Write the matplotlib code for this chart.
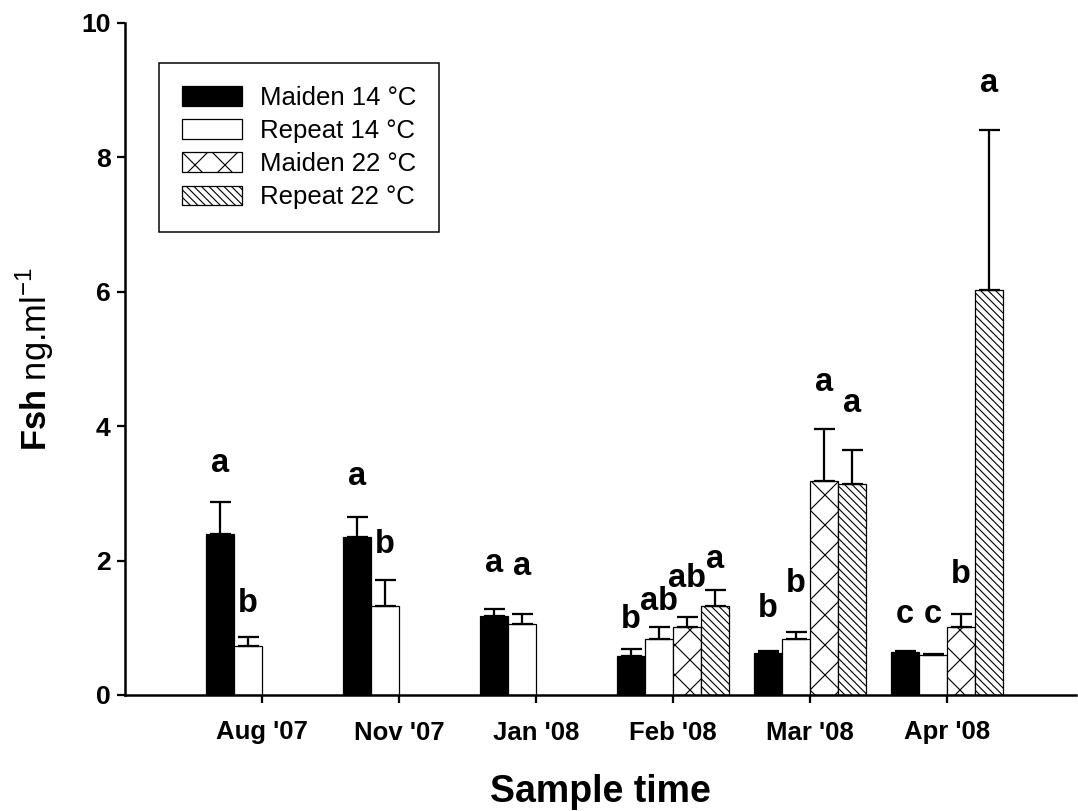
import numpy as np
import matplotlib
matplotlib.use('Agg')
import matplotlib.pyplot as plt

# ---- data ----
categories = ["Aug '07", "Nov '07", "Jan '08", "Feb '08", "Mar '08", "Apr '08"]
series_names = ["Maiden 14 °C", "Repeat 14 °C", "Maiden 22 °C", "Repeat 22 °C"]

maiden14 = [2.40, 2.35, 1.18, 0.58, 0.62, 0.64]
maiden14_err = [0.47, 0.30, 0.10, 0.10, 0.04, 0.02]
repeat14 = [0.73, 1.32, 1.06, 0.83, 0.83, 0.59]
repeat14_err = [0.13, 0.39, 0.15, 0.18, 0.11, 0.02]
maiden22 = [np.nan, np.nan, np.nan, 1.01, 3.18, 1.01]
maiden22_err = [np.nan, np.nan, np.nan, 0.15, 0.78, 0.20]
repeat22 = [np.nan, np.nan, np.nan, 1.32, 3.14, 6.03]
repeat22_err = [np.nan, np.nan, np.nan, 0.24, 0.50, 2.38]

# significance letters per series (None = no bar)
letters_m14 = ["a", "a", "a", "b", "b", "c"]
letters_r14 = ["b", "b", "a", "ab", "b", "c"]
letters_m22 = [None, None, None, "ab", "a", "b"]
letters_r22 = [None, None, None, "a", "a", "a"]
# height (data units) of the letter baselines
letter_y_m14 = [3.32, 3.13, 1.83, 1.00, 1.16, 1.07]
letter_y_r14 = [1.24, 2.11, 1.79, 1.26, 1.53, 1.07]
letter_y_m22 = [None, None, None, 1.61, 4.52, 1.67]
letter_y_r22 = [None, None, None, 1.89, 4.21, 8.97]

# ---- style ----
DPI = 180
plt.rcParams['font.family'] = ['Liberation Sans', 'DejaVu Sans']
plt.rcParams['mathtext.fontset'] = 'custom'
plt.rcParams['mathtext.rm'] = 'Liberation Sans'
plt.rcParams['mathtext.bf'] = 'Liberation Sans:bold'
plt.rcParams['hatch.linewidth'] = 0.45

fig = plt.figure(figsize=(1078 / DPI, 811 / DPI), dpi=DPI)
ax = fig.add_axes([125 / 1078, 1 - 695 / 811, (1076 - 125) / 1078, (695 - 23) / 811])

x = np.arange(len(categories))
w = 0.2044
series = [
    (maiden14, maiden14_err, 'black', '', letters_m14, letter_y_m14),
    (repeat14, repeat14_err, 'white', '', letters_r14, letter_y_r14),
    (maiden22, maiden22_err, 'white', 'xx', letters_m22, letter_y_m22),
    (repeat22, repeat22_err, 'white', '\\' * 8, letters_r22, letter_y_r22),
]

for j, (vals, errs, fc, hatch, letts, ly) in enumerate(series):
    vals = np.array(vals, dtype=float)
    errs = np.array(errs, dtype=float)
    left = x + (j - 2) * w
    ax.bar(left, vals, width=w, align='edge', color=fc, edgecolor='black',
           linewidth=0.5, hatch=hatch if hatch else None, label=series_names[j], zorder=2)
    centers = left + w / 2
    ax.errorbar(centers, vals, yerr=[np.zeros_like(errs), errs], fmt='none',
                ecolor='black', elinewidth=0.9, capsize=4.2, capthick=0.9, zorder=3)
    for k, (lt, yy) in enumerate(zip(letts, ly)):
        if lt is None:
            continue
        ax.text(centers[k], yy, lt, ha='center', va='baseline',
                fontsize=13, fontweight='bold', zorder=4)

ax.set_xlim(-1.0, 5.94)
ax.set_ylim(0, 10)
ax.set_xticks(x)
ax.set_xticklabels(categories, fontsize=10.3, fontweight='bold')
ax.set_yticks([0, 2, 4, 6, 8, 10])
ax.set_yticklabels(['0', '2', '4', '6', '8', '10'], fontsize=10.6, fontweight='bold')
ax.tick_params(axis='both', direction='out', length=3.2, width=0.9, color='black')
ax.tick_params(axis='x', pad=7)
ax.tick_params(axis='y', pad=2.5)

for s in ['top', 'right']:
    ax.spines[s].set_visible(False)
for s in ['left', 'bottom']:
    ax.spines[s].set_linewidth(1.0)

ax.set_xlabel('Sample time', fontsize=15, fontweight='bold', labelpad=12)
ax.set_ylabel(r'$\mathbf{Fsh}$ ng.ml$^{-1}$', fontsize=13.8, labelpad=10)

leg = ax.legend(loc='upper left', bbox_to_anchor=(0.0358, 0.9405), borderaxespad=0,
                fontsize=10.3, handlelength=2.33, handleheight=0.8, labelspacing=0.36,
                handletextpad=0.7, borderpad=0.88, fancybox=False, framealpha=1,
                edgecolor='black')
leg.get_frame().set_linewidth(0.6)

fig.savefig('out.png', dpi=DPI)
